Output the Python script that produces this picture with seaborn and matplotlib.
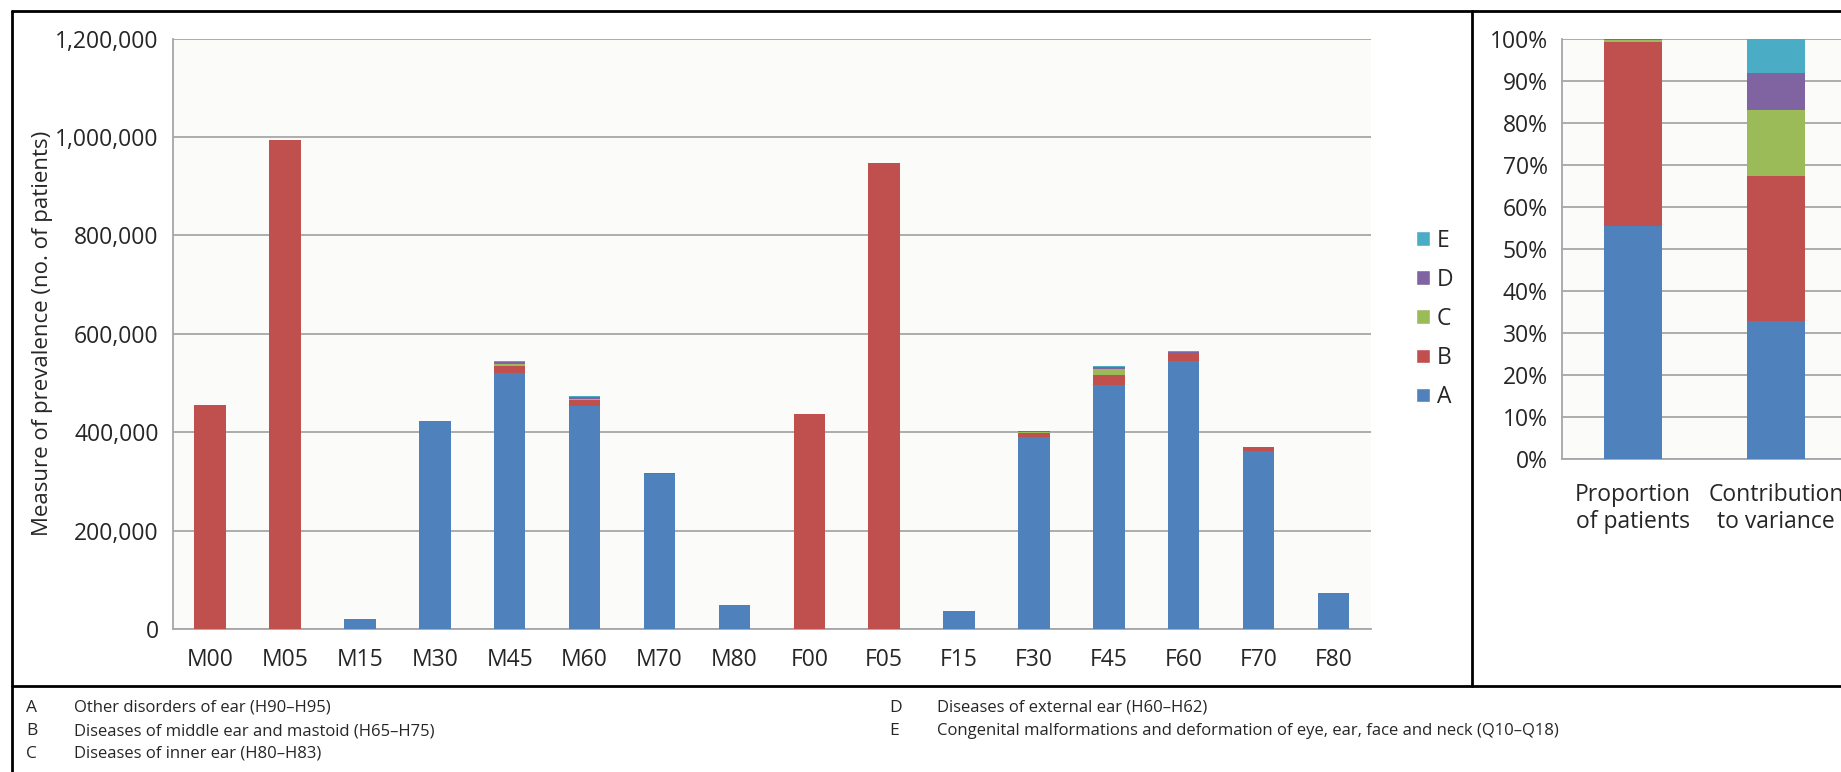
import numpy as np
import pandas as pd
import seaborn as sns
import matplotlib.pyplot as plt
from matplotlib.lines import Line2D
from matplotlib.patches import Patch
from matplotlib.ticker import FuncFormatter, FixedLocator

# data
groups = ['M00', 'M05', 'M15', 'M30', 'M45', 'M60', 'M70', 'M80',
          'F00', 'F05', 'F15', 'F30', 'F45', 'F60', 'F70', 'F80']
A = [0, 0, 21000, 422000, 520000, 453000, 316000, 49000,
     0, 0, 36000, 389500, 497000, 545600, 362400, 73300]
B = [455400, 995000, 0, 1500, 15000, 12000, 500, 0,
     437700, 947600, 0, 8000, 20000, 15000, 8000, 0]
C = [0, 0, 0, 0, 4000, 3500, 0, 0, 0, 0, 0, 2500, 12000, 1000, 0, 0]
D = [0, 0, 0, 0, 3000, 3000, 500, 0, 0, 0, 0, 2000, 4500, 2000, 0, 0]
E = [0, 0, 0, 0, 3000, 3000, 0, 0, 0, 0, 0, 1500, 1000, 1000, 0, 0]

share_labels = ['Proportion\nof patients', 'Contribution\nto variance']
share_A = [55.5, 32.8]
share_B = [43.7, 34.5]
share_C = [0.4, 15.7]
share_D = [0.3, 8.9]
share_E = [0.1, 8.1]

keys = ['A', 'B', 'C', 'D', 'E']
colors = {'A': '#4F81BD', 'B': '#C0504D', 'C': '#9BBB59', 'D': '#8064A2', 'E': '#4BACC6'}
footnotes = {
    'A': 'Other disorders of ear (H90\u2013H95)',
    'B': 'Diseases of middle ear and mastoid (H65\u2013H75)',
    'C': 'Diseases of inner ear (H80\u2013H83)',
    'D': 'Diseases of external ear (H60\u2013H62)',
    'E': 'Congenital malformations and deformation of eye, ear, face and neck (Q10\u2013Q18)',
}

sns.set_style('white')
plt.rcParams['font.family'] = ['Open Sans', 'DejaVu Sans']
grid_col = '#A6A6A6'
fs = 16.5

counts = pd.DataFrame({'group': groups, 'A': A, 'B': B, 'C': C, 'D': D, 'E': E})
shares = pd.DataFrame({'group': share_labels, 'A': share_A, 'B': share_B,
                       'C': share_C, 'D': share_D, 'E': share_E})


def stacked(ax, df, width):
    # draw cumulative totals from the top segment down so each layer shows
    cum = df[keys].cumsum(axis=1)
    for k in reversed(keys):
        sns.barplot(x=df['group'], y=cum[k], color=colors[k], width=width,
                    saturation=1, linewidth=0, ax=ax, zorder=3)


def style_axis(ax, n):
    ax.set_facecolor('#FBFBFA')
    ax.yaxis.grid(True, color=grid_col, linewidth=1.3, zorder=0)
    ax.set_axisbelow(True)
    for s in ['top', 'right']:
        ax.spines[s].set_visible(False)
    for s in ['left', 'bottom']:
        ax.spines[s].set_color(grid_col)
        ax.spines[s].set_linewidth(1.3)
    ax.set_xlim(-0.5, n - 0.5)
    ax.xaxis.set_minor_locator(FixedLocator(np.arange(-0.5, n, 1.0)))
    ax.tick_params(axis='x', which='major', length=0, labelsize=fs, pad=14)
    ax.tick_params(axis='x', which='minor', length=9, width=1.3, color=grid_col)
    ax.tick_params(axis='y', length=6, width=1.3, color=grid_col, labelsize=fs, pad=4)
    ax.set_xlabel('')
    ax.set_ylabel('')


fig = plt.figure(figsize=(18.41, 7.72), dpi=100)

ax1 = fig.add_axes([0.0938, 0.1852, 0.6509, 0.7647])
stacked(ax1, counts, 0.42)
style_axis(ax1, len(groups))
ax1.set_ylim(0, 1200000)
ax1.set_yticks(np.arange(0, 1200001, 200000))
ax1.yaxis.set_major_formatter(FuncFormatter(lambda v, p: f'{int(v):,}'))
ax1.set_ylabel('Measure of prevalence (no. of patients)', fontsize=16, labelpad=2)

handles = [Patch(facecolor=colors[k], label=k) for k in reversed(keys)]
fig.legend(handles=handles, loc='center left', bbox_to_anchor=(0.758, 0.587),
           frameon=False, fontsize=fs, handlelength=0.6, handleheight=0.6,
           handletextpad=0.3, labelspacing=0.66)

ax2 = fig.add_axes([0.8482, 0.4054, 0.1553, 0.5445])
stacked(ax2, shares, 0.4)
style_axis(ax2, len(share_labels))
ax2.set_ylim(0, 100)
ax2.set_yticks(np.arange(0, 101, 10))
ax2.yaxis.set_major_formatter(FuncFormatter(lambda v, p: f'{int(v)}%'))
ax2.tick_params(axis='x', which='major', pad=17)

# frame round the figure, as in the source layout
W, H = 1841, 772
lw = 2.0
def fline(x0, y0, x1, y1):
    fig.add_artist(Line2D([x0 / W, x1 / W], [1 - y0 / H, 1 - y1 / H],
                          color='black', linewidth=lw))
fline(12, 11, W, 11)
fline(12, 11, 12, H)
fline(12, 686, W, 686)
fline(1472, 11, 1472, 686)

# footnote key
rows = [('A', 26, 708), ('B', 26, 731), ('C', 26, 754), ('D', 889, 708), ('E', 889, 731)]
for k, x, y in rows:
    fig.text(x / W, 1 - y / H, k, fontsize=12.5, va='center', ha='left')
    fig.text((x + 48) / W, 1 - y / H, footnotes[k], fontsize=12, va='center', ha='left')

fig.savefig('out.png', dpi=100)
